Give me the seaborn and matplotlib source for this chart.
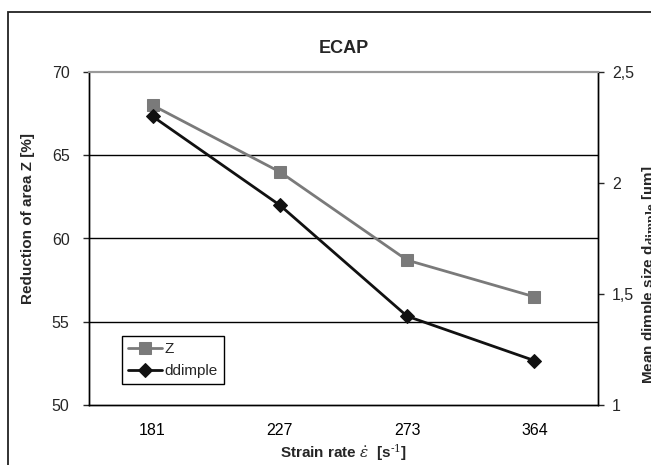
import numpy as np
import pandas as pd
import seaborn as sns
import matplotlib.pyplot as plt
from matplotlib.patches import Rectangle

# data
strain_rates = ["181", "227", "273", "364"]
reduction_z = [68.0, 64.0, 58.7, 56.5]          # left axis, %
dimple_size = [2.3, 1.9, 1.4, 1.2]              # right axis, um
right_tick_labels = ["1", "1,5", "2", "2,5"]

df = pd.DataFrame({"rate": strain_rates, "Z": reduction_z, "ddimple": dimple_size})

sns.set_style("white")
plt.rcParams["font.family"] = ["Liberation Sans", "DejaVu Sans"]
plt.rcParams["mathtext.fontset"] = "dejavuserif"

fig = plt.figure(figsize=(6.51, 4.65), dpi=100)
W, H = 651, 465
ax = fig.add_axes([89 / W, 1 - 405 / H, 509 / W, 333 / H])

# outer frame of the original figure (cut off on the right/bottom)
fig.patches.append(Rectangle((8 / W, -0.1), 1.2, 1 - 12 / H + 0.1, transform=fig.transFigure,
                             fill=False, edgecolor="#222222", linewidth=1.3))

gray = "#7a7a7a"
sns.lineplot(data=df, x="rate", y="Z", ax=ax, sort=False, color=gray, marker="s",
             markersize=8, markeredgecolor=gray, linewidth=2.0, label="Z")
ax.set_ylim(50, 70)
ax.set_yticks([50, 55, 60, 65, 70])
for v in ax.get_yticks()[1:-1]:
    ax.axhline(v, color="black", linewidth=1.0, zorder=0)

ax2 = ax.twinx()
sns.lineplot(data=df, x="rate", y="ddimple", ax=ax2, sort=False, color="#111111", marker="D",
             markersize=7, markeredgecolor="#111111", linewidth=2.0, label="ddimple")
ax2.set_ylim(1, 2.5)
ax2.set_yticks([1, 1.5, 2, 2.5])
ax2.set_yticklabels(right_tick_labels)

ax.set_xlim(-0.5, 3.5)
ax.set_xticks(range(len(strain_rates)))
ax.set_xticklabels(strain_rates)
ax.set_xticks(np.arange(0.5, len(strain_rates) - 1, 1.0), minor=True)
ax.tick_params(axis="x", which="both", direction="in", length=4, width=1, pad=13,
               labelsize=11.5, colors="black")
ax.tick_params(axis="y", direction="out", length=4, width=1, labelsize=11.5, pad=10)
ax2.tick_params(axis="y", direction="out", length=4, width=1, labelsize=11.5, pad=6)

for a in (ax, ax2):
    for s in a.spines.values():
        s.set_color("black")
        s.set_linewidth(1.0)
    a.spines["top"].set_color("#999999")
    a.spines["top"].set_linewidth(1.5)

ax.set_xlabel(r"Strain rate $\dot{\varepsilon}$  [s$^{\text{-1}}$]", fontsize=11,
              fontweight="bold", labelpad=3)
ax.set_ylabel("Reduction of area Z [%]", fontsize=11, fontweight="bold")
ax.yaxis.set_label_coords(-0.107, 0.56)
ax2.set_ylabel("")
fig.text(641 / W, 1 - 275 / H, r"Mean dimple size d$_{\mathbf{dimple}}$ [µm]", rotation=90,
         ha="left", va="center", fontsize=11, fontweight="bold")

ax.set_title("ECAP", fontsize=13, fontweight="bold", pad=14)

ax.get_legend().remove()
h1, l1 = ax.get_legend_handles_labels()
h2, l2 = ax2.get_legend_handles_labels()
ax2.legend(h1 + h2, l1 + l2, loc="lower left", bbox_to_anchor=(0.05, 0.04), fontsize=11,
           frameon=True, fancybox=False, edgecolor="black", framealpha=1,
           handlelength=2.2, borderpad=0.4, labelspacing=0.5, handletextpad=0.2)
ax2.get_legend().get_frame().set_linewidth(1.0)

fig.savefig("out.png", dpi=100)
